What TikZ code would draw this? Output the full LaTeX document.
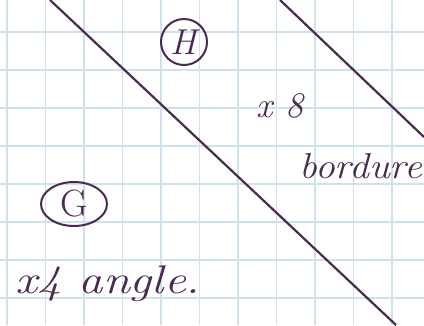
\documentclass[tikz,border=0pt]{standalone}
\usepackage{fontspec}
\usepackage{graphicx}
\usetikzlibrary{shapes.geometric}
\definecolor{ink}{HTML}{4A2A50}
\definecolor{gridblue}{HTML}{CFE2EC}
\begin{document}
\begin{tikzpicture}[x=1pt,y=-1pt,
  gridline/.style={gridblue,line width=1.1pt},
  inkline/.style={ink,line width=2.2pt},
  hand/.style={ink,font=\itshape\fontsize{36}{36}\selectfont,inner sep=0pt,anchor=base west}]
\fill[white] (0,0) rectangle (424,325);
\useasboundingbox (0,0) rectangle (424,325);
\foreach \i in {0,...,10} \draw[gridline] (7+38.5*\i,0) -- (7+38.5*\i,325);
\foreach \j in {0,...,7} \draw[gridline] (0,32+38*\j) -- (424,32+38*\j);
\coordinate (a1) at (50,0);
\coordinate (a2) at (396,325);
\coordinate (b1) at (280,0);
\coordinate (b2) at (424,137);
\draw[inkline] (a1) -- (a2);
\draw[inkline] (b1) -- (b2);
\node[ink,draw,circle,line width=2pt,minimum size=46pt,inner sep=0pt,font=\itshape\fontsize{36}{36}\selectfont] (H) at (184,42) {H};
\node[ink,draw,ellipse,line width=2pt,minimum width=66pt,minimum height=44pt,inner sep=0pt,font=\fontsize{38}{38}\selectfont] (G) at (74,204) {G};
\node[hand] (x8) at (256,117) {x 8};
\node[hand] (bord) at (299,178) {\scalebox{1.1}[1]{bordure}};
\node[hand,font=\itshape\fontsize{40}{40}\selectfont] (angle) at (15,293) {\scalebox{1.22}[1]{x4 angle.}};
\end{tikzpicture}
\end{document}
